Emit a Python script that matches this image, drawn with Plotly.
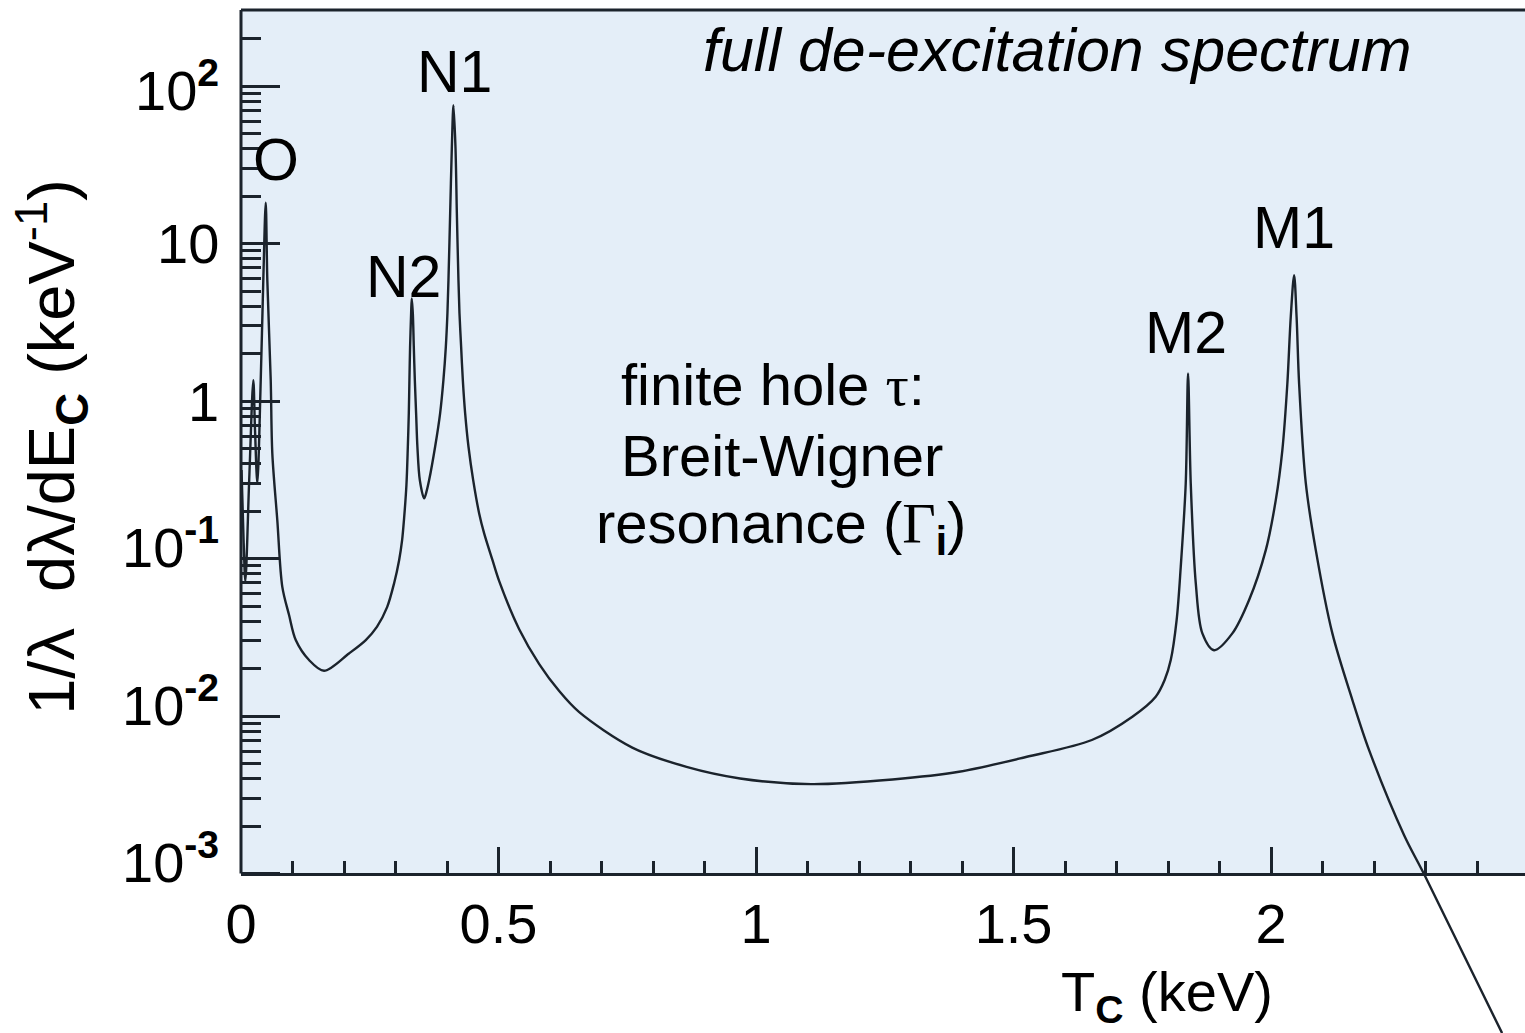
import math
import plotly.graph_objects as go

# ---- data (T_C in keV, spectrum in keV^-1) ----
t_kev = [0.001, 0.005, 0.0085, 0.0159, 0.0239, 0.0272, 0.0317, 0.0383, 0.0433, 0.048,
         0.0511, 0.0577, 0.0608, 0.0705, 0.0802, 0.0933, 0.1063, 0.1321, 0.1612, 0.2097,
         0.2423, 0.2642, 0.2837, 0.2973, 0.307, 0.3128, 0.3167, 0.3212, 0.3239, 0.3258,
         0.327, 0.3283, 0.3303, 0.3315, 0.3336, 0.3355, 0.3375, 0.34, 0.3425, 0.3472,
         0.3556, 0.36, 0.3653, 0.3769, 0.3866, 0.393, 0.3977, 0.4008, 0.4028, 0.4061,
         0.4094, 0.4125, 0.4164, 0.4191, 0.4222, 0.4242, 0.4274, 0.4307, 0.4352, 0.4417,
         0.4508, 0.4624, 0.4721, 0.4883, 0.5013, 0.5401, 0.579, 0.6178, 0.6567, 0.7597,
         0.865, 0.969, 1.107, 1.265, 1.394, 1.524, 1.652, 1.7307, 1.776, 1.7933,
         1.8052, 1.8166, 1.8246, 1.8343, 1.8388, 1.844, 1.8538, 1.8666, 1.8893, 1.9248,
         1.9573, 1.9897, 2.0091, 2.0219, 2.0316, 2.0382, 2.0447, 2.0495, 2.0544, 2.0674,
         2.0868, 2.119, 2.1579, 2.1903, 2.2583, 2.297, 2.4485]
spectrum = [0.365, 0.131, 0.0719, 0.315, 1.358, 0.655, 0.301, 1.358, 5.86, 18.16,
            5.86, 1.358, 0.466, 0.175, 0.0662, 0.0438, 0.0304, 0.0227, 0.0194, 0.0250,
            0.0304, 0.0370, 0.0492, 0.0698, 0.0977, 0.131, 0.1807, 0.293, 0.511, 0.836,
            1.358, 2.21, 3.61, 4.49, 3.61, 2.21, 1.358, 0.836, 0.513, 0.315,
            0.241, 0.265, 0.315, 0.513, 0.836, 1.358, 2.21, 3.61, 5.86, 15.56,
            41.2, 75.7, 41.2, 15.56, 5.86, 3.61, 2.21, 1.358, 0.836, 0.513,
            0.315, 0.1936, 0.1445, 0.0977, 0.0719, 0.0356, 0.0214, 0.01442, 0.01059, 0.00631,
            0.00476, 0.00402, 0.00370, 0.00396, 0.00443, 0.0055, 0.00705, 0.00991, 0.01327, 0.01694,
            0.0227, 0.0407, 0.0887, 0.301, 1.500, 0.301, 0.0697, 0.0335, 0.0262, 0.0335,
            0.0546, 0.1132, 0.235, 0.489, 1.294, 3.43, 6.31, 3.43, 1.294, 0.301,
            0.1132, 0.0335, 0.01265, 0.00608, 0.001754, 0.000993, 0.0000971]

x_major = [0, 0.5, 1, 1.5, 2]
x_major_text = ["0", "0.5", "1", "1.5", "2"]
x_minor = [0.1, 0.2, 0.3, 0.4, 0.6, 0.7, 0.8, 0.9, 1.1, 1.2, 1.3, 1.4,
           1.6, 1.7, 1.8, 1.9, 2.1, 2.2, 2.3, 2.4]
y_major = [1e-3, 1e-2, 1e-1, 1, 10, 100]
y_major_text = ["10<sup><b>-3</b></sup>", "10<sup><b>-2</b></sup>", "10<sup><b>-1</b></sup>",
                "1", "10", "10<sup><b>2</b></sup>"]
y_minor = [m * d for d in [1e-3, 1e-2, 1e-1, 1, 10] for m in range(2, 10)] + [200]

peak_names = ["O", "N2", "N1", "M2", "M1"]
peak_label_x = [0.068, 0.315, 0.4136, 1.835, 2.045]
peak_label_logy = [1.53, 0.79, 2.089, 0.432, 1.099]

# ---- geometry ----
X_RANGE = [0, 2.493]
Y_RANGE = [-4.012, 2.483]          # log10 range; frame bottom sits at 1e-3
Y_FRAME_BOTTOM = -3
frame_frac = (Y_FRAME_BOTTOM - Y_RANGE[0]) / (Y_RANGE[1] - Y_RANGE[0])

FONT = "Liberation Sans, Arial, sans-serif"
INK = "#1b232c"
BG = "#e4eef8"

fig = go.Figure()
fig.add_trace(go.Scatter(x=t_kev, y=spectrum, mode="lines",
                         line=dict(color=INK, width=2.4, shape="spline", smoothing=0.9),
                         showlegend=False, hoverinfo="skip"))

# background panel and frame
fig.add_shape(type="rect", xref="paper", yref="paper", x0=0, x1=1.01,
              y0=frame_frac, y1=1, fillcolor=BG, line=dict(width=0), layer="below")
fig.add_shape(type="line", xref="paper", yref="paper", x0=0, x1=1.01, y0=1, y1=1,
              line=dict(color=INK, width=3))
fig.add_shape(type="line", xref="paper", yref="paper", x0=0, x1=0, y0=frame_frac, y1=1,
              line=dict(color=INK, width=3))

# dashed pointer
fig.add_shape(type="line", xref="x", yref="y", x0=0.472, y0=-0.851, x1=0.637, y1=-0.565,
              line=dict(color="black", width=1.5, dash="dash"))

# y tick labels (exponent labels sit a little higher in the reference)
for v, txt in zip(y_major, y_major_text):
    fig.add_annotation(xref="paper", yref="y", x=-0.0156, y=math.log10(v), text=txt,
                       showarrow=False, xanchor="right", yanchor="middle",
                       yshift=15 if "-" in txt else 0,
                       font=dict(family=FONT, size=56, color="black"))

for name, px, py in zip(peak_names, peak_label_x, peak_label_logy):
    fig.add_annotation(x=px, y=py, xref="x", yref="y", text=name, showarrow=False,
                       font=dict(family=FONT, size=59, color="black"),
                       xanchor="center", yanchor="middle")

SERIF = "font-family:'Liberation Serif','Times New Roman',serif"
fig.add_annotation(xref="paper", yref="paper", x=0.636, y=0.961,
                   text="<i>full de-excitation spectrum</i>", showarrow=False,
                   font=dict(family=FONT, size=61, color="black"),
                   xanchor="center", yanchor="middle")
fig.add_annotation(xref="paper", yref="paper", x=0.4143, y=0.6334,
                   text=f"finite hole <span style=\"{SERIF}\">τ</span>:", showarrow=False,
                   font=dict(family=FONT, size=58, color="black"),
                   xanchor="center", yanchor="middle")
fig.add_annotation(xref="paper", yref="paper", x=0.4213, y=0.565,
                   text="Breit-Wigner", showarrow=False,
                   font=dict(family=FONT, size=58, color="black"),
                   xanchor="center", yanchor="middle")
fig.add_annotation(xref="paper", yref="paper", x=0.4206, y=0.4946,
                   text=f"resonance (<span style=\"{SERIF}\">Γ</span><sub><b>i</b></sub>)",
                   showarrow=False, font=dict(family=FONT, size=58, color="black"),
                   xanchor="center", yanchor="middle")

# axis titles
fig.add_annotation(xref="paper", yref="paper", x=-0.1472, y=0.573,
                   text="1/λ  dλ/dE<sub><b>C</b></sub> (keV<sup>-1</sup>)",
                   textangle=-90, showarrow=False,
                   font=dict(family=FONT, size=65, color="black"),
                   xanchor="center", yanchor="middle")
fig.add_annotation(xref="paper", yref="paper", x=0.8053, y=0.0371,
                   text="T<sub><b>C</b></sub> (keV)", showarrow=False,
                   font=dict(family=FONT, size=56, color="black"),
                   xanchor="right", yanchor="middle")

fig.update_layout(
    width=1525, height=1033,
    margin=dict(l=241, r=0, t=10, b=0),
    paper_bgcolor="white", plot_bgcolor="white",
    xaxis=dict(range=X_RANGE, anchor="free", position=frame_frac,
               showline=True, linecolor=INK, linewidth=3,
               ticks="inside", tickvals=x_major, ticktext=x_major_text,
               ticklen=26, tickwidth=2.5, tickcolor=INK,
               minor=dict(tickvals=x_minor, ticks="inside", ticklen=12,
                          tickwidth=2.5, tickcolor=INK),
               tickfont=dict(family=FONT, size=56, color="black"),
               ticklabelstandoff=0,
               showgrid=False, zeroline=False),
    yaxis=dict(type="log", range=Y_RANGE, showline=False,
               ticks="inside", tickvals=y_major, showticklabels=False,
               ticklen=39, tickwidth=2.5, tickcolor=INK,
               minor=dict(tickvals=y_minor, ticks="inside", ticklen=20,
                          tickwidth=2.5, tickcolor=INK),
               showgrid=False, zeroline=False),
)

fig.write_html("out.html")
